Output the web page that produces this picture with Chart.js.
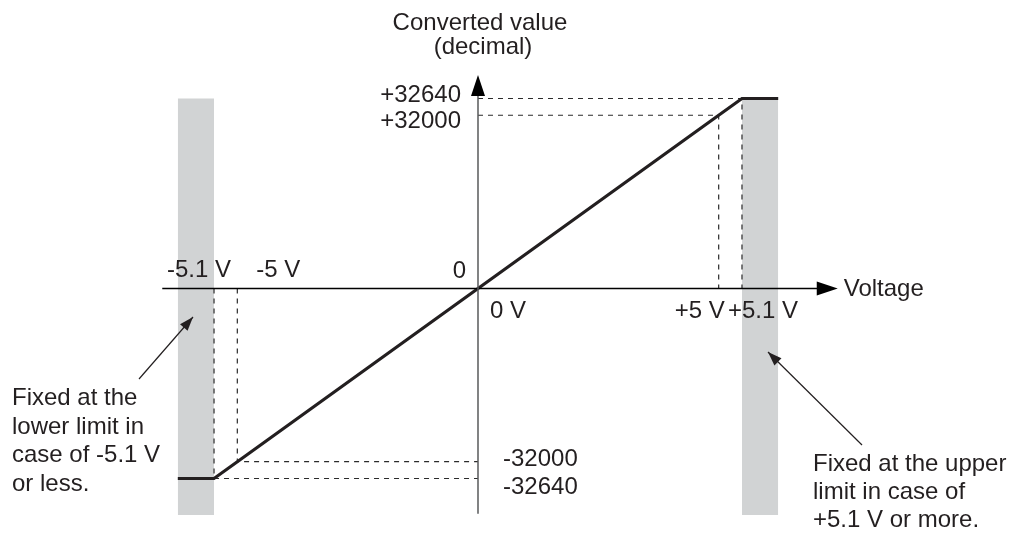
<!DOCTYPE html>
<html>
<head>
<meta charset="utf-8">
<script src="https://cdn.jsdelivr.net/npm/chart.js@4"></script>
<style>
  html, body { margin: 0; padding: 0; background: #fff; }
  #wrap { width: 1010px; height: 533px; }
</style>
</head>
<body>
<div id="wrap"><canvas id="conversionChart"></canvas></div>
<script>
// input voltage (V) -> converted value (decimal)
const inputVoltage = [-5.8, -5.1, -5, 0, 5, 5.1, 5.8];
const convertedValue = [-32640, -32640, -32000, 0, 32000, 32640, 32640];

// guide marks on the two axes
const voltageMarks = [-5.1, -5, 0, 5, 5.1];
const voltageLabels = ['-5.1 V', '-5 V', '0 V', '+5 V', '+5.1 V'];
const valueMarks = [-32640, -32000, 0, 32000, 32640];
const valueLabels = ['-32640', '-32000', '0', '+32000', '+32640'];

// shaded ranges where the output is clamped
const lowerLimitBand = [-5.8, -5.1];
const upperLimitBand = [5.1, 5.8];
const bandValueRange = [-38900, 32640];

// how far the drawn axes reach
const voltageAxisRange = [-6.1, 6.95];
const valueAxisRange = [-38700, 36700];

const axisTitleY = ['Converted value', '(decimal)'];
const axisTitleX = 'Voltage';
const lowerNote = ['Fixed at the', 'lower limit in', 'case of -5.1 V', 'or less.'];
const upperNote = ['Fixed at the upper', 'limit in case of', '+5.1 V or more.'];

const FONT = '24px "Liberation Sans", Arial, sans-serif';
const INK = '#231f20';

// the drawing is not to scale: the step between 5 V and 5.1 V is stretched
const squeezeKnots = {
    x: [[5, 4.65], [5.1, 5.1]],
    y: [[32000, 29760], [32640, 32640]]
};

function squeeze(v, knots) {
    const a = Math.abs(v), s = Math.sign(v);
    let pv = 0, pd = 0;
    for (const [kv, kd] of knots) {
        if (a <= kv) return s * (pd + (a - pv) * (kd - pd) / (kv - pv));
        pv = kv; pd = kd;
    }
    return s * (pd + a - pv);
}

class SchematicScale extends Chart.LinearScale {
    static id = 'schematic';
    static defaults = Chart.LinearScale.defaults;
    getPixelForValue(value) {
        return super.getPixelForValue(squeeze(value, squeezeKnots[this.id]));
    }
}
Chart.register(SchematicScale);

function pts(xs, ys) {
    return xs.map((x, i) => ({x, y: ys[i]}));
}

const dashed = {
    borderColor: '#2b2b2b', borderWidth: 1.2, borderDash: [5, 5],
    pointRadius: 0, fill: false, order: 2
};

function band(range) {
    return [
        {data: pts(range, [bandValueRange[1], bandValueRange[1]]), fill: '+1',
         backgroundColor: '#d1d3d4', borderColor: 'rgba(0,0,0,0)', borderWidth: 0, pointRadius: 0, order: 5},
        {data: pts(range, [bandValueRange[0], bandValueRange[0]]), fill: false,
         borderColor: 'rgba(0,0,0,0)', borderWidth: 0, pointRadius: 0, order: 5}
    ];
}

function arrowHead(ctx, x0, y0, x1, y1, len, half) {
    const ang = Math.atan2(y1 - y0, x1 - x0);
    ctx.beginPath();
    ctx.moveTo(x1, y1);
    ctx.lineTo(x1 - len * Math.cos(ang) + half * Math.sin(ang), y1 - len * Math.sin(ang) - half * Math.cos(ang));
    ctx.lineTo(x1 - len * Math.cos(ang) - half * Math.sin(ang), y1 - len * Math.sin(ang) + half * Math.cos(ang));
    ctx.closePath();
    ctx.fill();
}

const overlay = {
    id: 'overlay',
    afterDatasetsDraw(chart) {
        const {ctx, scales: {x, y}} = chart;
        const px = v => x.getPixelForValue(v);
        const py = v => y.getPixelForValue(v);
        const x0 = px(0), y0 = py(0);
        ctx.save();

        // voltage axis
        const xa = px(voltageAxisRange[0]), xb = px(voltageAxisRange[1]);
        ctx.strokeStyle = '#000';
        ctx.fillStyle = '#000';
        ctx.lineWidth = 1.5;
        ctx.beginPath();
        ctx.moveTo(xa, y0);
        ctx.lineTo(xb - 18, y0);
        ctx.stroke();
        arrowHead(ctx, xa, y0, xb, y0, 21, 7);

        // value axis
        const ya = py(valueAxisRange[0]), yb = py(valueAxisRange[1]);
        ctx.strokeStyle = '#58595b';
        ctx.beginPath();
        ctx.moveTo(x0, ya);
        ctx.lineTo(x0, yb + 18);
        ctx.stroke();
        ctx.fillStyle = '#000';
        arrowHead(ctx, x0, ya, x0, yb, 21, 7);

        ctx.font = FONT;
        ctx.fillStyle = INK;
        ctx.textBaseline = 'alphabetic';

        // voltage mark labels: [dx, dy, align]
        const vPlace = [[-47, -11.5, 'left'], [19, -11.5, 'left'], [12, 29.5, 'left'], [6, 29.5, 'right'], [-14, 29.5, 'left']];
        voltageMarks.forEach((v, i) => {
            const [dx, dy, al] = vPlace[i];
            ctx.textAlign = al;
            ctx.fillText(voltageLabels[i], px(v) + dx, y0 + dy);
        });

        // value mark labels
        const yPlace = [[25, 15.5, 'left'], [25, 4, 'left'], [-12, -10.5, 'right'], [-17, 13, 'right'], [-17, 3.5, 'right']];
        valueMarks.forEach((v, i) => {
            const [dx, dy, al] = yPlace[i];
            ctx.textAlign = al;
            ctx.fillText(valueLabels[i], x0 + dx, py(v) + dy);
        });

        // axis titles
        ctx.textAlign = 'center';
        ctx.fillText(axisTitleY[0], x0 + 2, 30);
        ctx.fillText(axisTitleY[1], x0 + 5, 54);
        ctx.textAlign = 'left';
        ctx.fillText(axisTitleX, xb + 6, y0 + 7.5);

        // notes
        lowerNote.forEach((t, i) => ctx.fillText(t, 12, 405 + i * 28.5));
        upperNote.forEach((t, i) => ctx.fillText(t, 813, 471 + i * 28));

        // pointer arrows to the shaded bands
        ctx.strokeStyle = INK;
        ctx.fillStyle = INK;
        ctx.lineWidth = 1.2;
        [[139, 379, 193, 317], [862, 445, 768, 352]].forEach(([ax, ay, bx, by]) => {
            ctx.beginPath();
            ctx.moveTo(ax, ay);
            ctx.lineTo(bx, by);
            ctx.stroke();
            arrowHead(ctx, ax, ay, bx, by, 14, 5);
        });

        ctx.restore();
    }
};

new Chart(document.getElementById('conversionChart'), {
    type: 'line',
    data: {
        datasets: [
            {
                data: pts(inputVoltage, convertedValue),
                borderColor: INK,
                borderWidth: 3.2,
                pointRadius: 0,
                fill: false,
                order: 0
            },
            {...dashed, data: pts([0, voltageMarks[4], voltageMarks[4]], [valueMarks[4], valueMarks[4], 0])},
            {...dashed, data: pts([0, voltageMarks[3], voltageMarks[3]], [valueMarks[3], valueMarks[3], 0])},
            {...dashed, data: pts([voltageMarks[0], voltageMarks[0], 0], [0, valueMarks[0], valueMarks[0]])},
            {...dashed, data: pts([voltageMarks[1], voltageMarks[1], 0], [0, valueMarks[1], valueMarks[1]])},
            ...band(lowerLimitBand),
            ...band(upperLimitBand)
        ]
    },
    options: {
        responsive: true,
        maintainAspectRatio: false,
        animation: false,
        layout: {padding: 0},
        scales: {
            x: {type: 'schematic', min: -9.2349, max: 10.2782, display: false},
            y: {type: 'schematic', min: -42005, max: 49564, display: false}
        },
        plugins: {
            legend: {display: false},
            tooltip: {enabled: false}
        }
    },
    plugins: [overlay]
});
</script>
</body>
</html>
